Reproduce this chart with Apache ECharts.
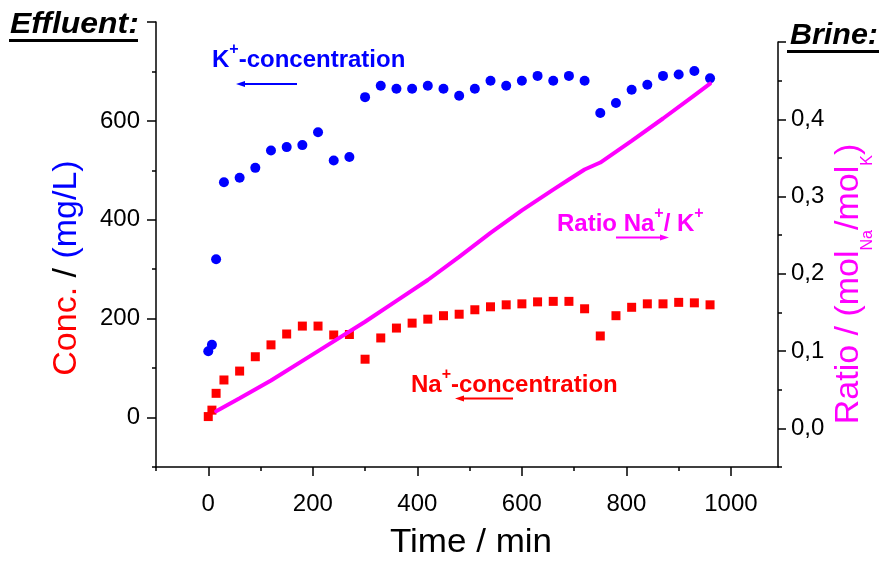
<!DOCTYPE html>
<html><head><meta charset="utf-8">
<script src="https://cdn.jsdelivr.net/npm/echarts@6/dist/echarts.min.js"></script>
<style>html,body{margin:0;padding:0;background:#fff}#c{width:882px;height:561px}</style>
</head><body><div id="c"></div>
<script>
// ---- data ----
const times = [0, 7, 15, 30, 60, 90, 120, 150, 180, 210, 240, 270, 300, 330, 360, 390, 420, 450, 480, 510, 540, 570, 600, 630, 660, 690, 720, 750, 780, 810, 840, 870, 900, 930, 960];
const naConc = [2, 15, 49, 76, 94, 123, 147, 169, 185, 185, 167, 168, 118, 161, 181, 191, 199, 206, 209, 218, 224, 228, 230, 234, 235, 235, 220, 165, 206, 223, 230, 230, 233, 232, 228];
const kConc = [134, 147, 320, 476, 485, 505, 540, 547, 551, 577, 520, 527, 648, 671, 665, 665, 671, 665, 651, 665, 681, 671, 681, 691, 681, 691, 681, 616, 636, 663, 673, 691, 694, 701, 686];
const ratioTimes = [15, 60, 120, 210, 300, 360, 420, 480, 540, 600, 660, 690, 720, 750, 810, 870, 930, 960];
const ratioValues = [0.022, 0.039, 0.062, 0.100, 0.138, 0.165, 0.192, 0.222, 0.253, 0.282, 0.309, 0.322, 0.335, 0.344, 0.372, 0.401, 0.431, 0.446];
const xMajorTicks = [0, 200, 400, 600, 800, 1000];
const xMinorTicks = [-100, 100, 300, 500, 700, 900];
const leftMajorTicks = [0, 200, 400, 600, 800];
const leftLabels = [0, 200, 400, 600];
const leftMinorTicks = [-100, 100, 300, 500, 700];
const rightMajorTicks = [0, 0.1, 0.2, 0.3, 0.4, 0.5];
const rightLabels = [0, 0.1, 0.2, 0.3, 0.4];
const rightMinorTicks = [-0.05, 0.05, 0.15, 0.25, 0.35, 0.45];

const FF = '"Liberation Sans", Arial, sans-serif';
const AX = {color: '#000', width: 1.5};
const chart = echarts.init(document.getElementById('c'), null, {renderer: 'canvas'});

function axisBase(min, max) {
  return {type: 'value', min: min, max: max, splitLine: {show: false}};
}
function annot(x, y, parts, color) {
  return {type: 'text', x: x, y: y - 1, style: {
    text: parts, align: 'left', verticalAlign: 'middle',
    rich: {m: {fill: color, fontSize: 24, fontWeight: 'bold', lineHeight: 30, verticalAlign: 'bottom', fontFamily: FF},
           p: {fill: color, fontSize: 16, fontWeight: 'bold', lineHeight: 16, verticalAlign: 'top', fontFamily: FF}}}};
}

const option = {
  animation: false,
  backgroundColor: '#fff',
  grid: [
    {left: 156, right: 104, top: 22, bottom: 94},
    {left: 156, right: 104, top: 42, bottom: 94}
  ],
  xAxis: [
    Object.assign(axisBase(-100, 1090), {
      gridIndex: 0, position: 'bottom',
      axisLine: {show: true, onZero: false, lineStyle: AX},
      axisTick: {show: true, customValues: xMajorTicks, length: 9, lineStyle: AX},
      axisLabel: {customValues: xMajorTicks, margin: 25, fontSize: 24, color: '#000', fontFamily: FF,
        formatter: v => String(v)}
    }),
    Object.assign(axisBase(-100, 1090), {
      gridIndex: 0, position: 'bottom',
      axisLine: {show: false, onZero: false},
      axisTick: {show: true, customValues: xMinorTicks, length: 4, lineStyle: AX},
      axisLabel: {show: false}
    }),
    Object.assign(axisBase(-100, 1090), {gridIndex: 1, show: false})
  ],
  yAxis: [
    Object.assign(axisBase(-100, 800), {
      gridIndex: 0, position: 'left',
      axisLine: {show: true, onZero: false, lineStyle: AX},
      axisTick: {show: true, customValues: leftMajorTicks, length: 9, lineStyle: AX},
      axisLabel: {customValues: leftLabels, margin: 16, fontSize: 24, color: '#000', fontFamily: FF,
        formatter: v => String(v)}
    }),
    Object.assign(axisBase(-100, 800), {
      gridIndex: 0, position: 'left',
      axisLine: {show: false, onZero: false},
      axisTick: {show: true, customValues: leftMinorTicks, length: 4, lineStyle: AX},
      axisLabel: {show: false}
    }),
    Object.assign(axisBase(-0.05, 0.5), {
      gridIndex: 1, position: 'right',
      axisLine: {show: true, onZero: false, lineStyle: AX},
      axisTick: {show: true, customValues: rightMajorTicks, length: 8, lineStyle: AX},
      axisLabel: {customValues: rightLabels, margin: 13, fontSize: 24, color: '#000', fontFamily: FF,
        formatter: v => v.toFixed(1).replace('.', ',')}
    }),
    Object.assign(axisBase(-0.05, 0.5), {
      gridIndex: 1, position: 'right',
      axisLine: {show: false, onZero: false},
      axisTick: {show: true, customValues: rightMinorTicks, length: 4, lineStyle: AX},
      axisLabel: {show: false}
    })
  ],
  series: [
    {type: 'scatter', name: 'Na', xAxisIndex: 0, yAxisIndex: 0, symbol: 'rect', symbolSize: 9,
      itemStyle: {color: '#ff0000', opacity: 1}, data: times.map((t, i) => [t, naConc[i]]), z: 2},
    {type: 'scatter', name: 'K', xAxisIndex: 0, yAxisIndex: 0, symbol: 'circle', symbolSize: 10,
      itemStyle: {color: '#0000ff', opacity: 1}, data: times.map((t, i) => [t, kConc[i]]), z: 3},
    {type: 'line', name: 'Ratio', xAxisIndex: 2, yAxisIndex: 2, showSymbol: false, symbol: 'none',
      lineStyle: {color: '#ff00ff', width: 4, cap: 'round'}, data: ratioTimes.map((t, i) => [t, ratioValues[i]]), z: 4}
  ],
  graphic: [
    // panel titles
    {type: 'text', x: 10, y: 25, scaleX: 1.1, style: {text: 'Effluent:', font: 'italic bold 29px ' + FF, fill: '#000', align: 'left', verticalAlign: 'middle'}},
    {type: 'rect', shape: {x: 9, y: 39, width: 129, height: 3}, style: {fill: '#000'}},
    {type: 'text', x: 790, y: 36, scaleX: 1.05, style: {text: 'Brine:', font: 'italic bold 29px ' + FF, fill: '#000', align: 'left', verticalAlign: 'middle'}},
    {type: 'rect', shape: {x: 787, y: 50, width: 92, height: 3}, style: {fill: '#000'}},
    // axis titles
    {type: 'text', x: 471, y: 543, scaleX: 1.03, style: {text: 'Time / min', font: '34px ' + FF, fill: '#000', align: 'center', verticalAlign: 'middle'}},
    {type: 'text', x: 67, y: 268, rotation: Math.PI / 2, style: {
      text: '{r|Conc.}{k| / }{b|(mg/L)}', align: 'center', verticalAlign: 'middle', font: '34px ' + FF,
      rich: {r: {fill: '#ff0000', fontSize: 34, fontFamily: FF}, k: {fill: '#000', fontSize: 34, fontFamily: FF}, b: {fill: '#0000ff', fontSize: 34, fontFamily: FF}}}},
    {type: 'text', x: 849, y: 284, rotation: Math.PI / 2, style: {
      text: '{m|Ratio / (mol}{s|Na}{m|/mol}{s|K}{m|)}', align: 'center', verticalAlign: 'middle', font: '34px ' + FF,
      rich: {m: {fill: '#ff00ff', fontSize: 34, lineHeight: 34, verticalAlign: 'top', fontFamily: FF},
             s: {fill: '#ff00ff', fontSize: 16, lineHeight: 16, verticalAlign: 'top', padding: [28, 0, 0, 0], fontFamily: FF}}}},
    // annotations
    annot(212, 58, '{m|K}{p|+}{m|-concentration}', '#0000ff'),
    {type: 'line', shape: {x1: 241, y1: 84, x2: 297, y2: 84}, style: {stroke: '#0000ff', lineWidth: 2}},
    {type: 'polygon', shape: {points: [[236, 84], [245, 81], [245, 87]]}, style: {fill: '#0000ff'}},
    annot(557, 222, '{m|Ratio Na}{p|+}{m|/ K}{p|+}', '#ff00ff'),
    {type: 'line', shape: {x1: 616, y1: 237.5, x2: 663, y2: 237.5}, style: {stroke: '#ff00ff', lineWidth: 2}},
    {type: 'polygon', shape: {points: [[669, 237.5], [660, 234.5], [660, 240.5]]}, style: {fill: '#ff00ff'}},
    annot(411, 383, '{m|Na}{p|+}{m|-concentration}', '#ff0000'),
    {type: 'line', shape: {x1: 460, y1: 398.5, x2: 513, y2: 398.5}, style: {stroke: '#ff0000', lineWidth: 2}},
    {type: 'polygon', shape: {points: [[455, 398.5], [464, 395.5], [464, 401.5]]}, style: {fill: '#ff0000'}}
  ]
};
chart.setOption(option);
</script>
</body></html>
